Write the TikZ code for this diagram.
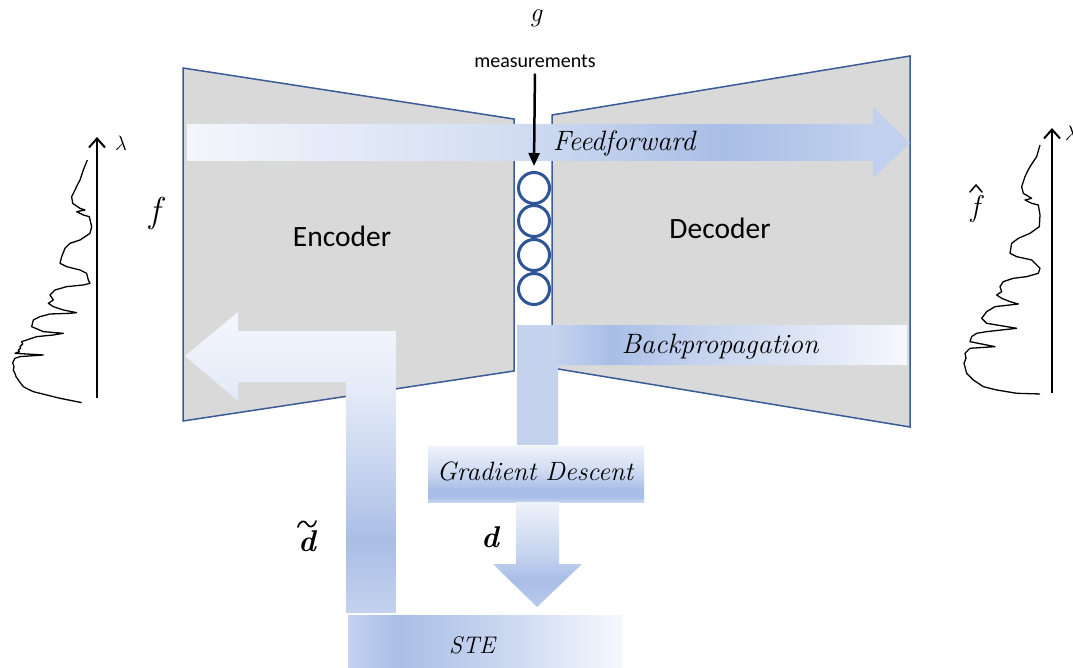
\documentclass[tikz,border=0pt]{standalone}
\usepackage{fontspec}
\newfontfamily\calibri{Carlito}
\usetikzlibrary{arrows.meta}

\definecolor{trapfill}{HTML}{D9D9D9}
\definecolor{trapline}{HTML}{3B5A98}
\definecolor{circblue}{HTML}{2F5597}
\definecolor{bW}{HTML}{F4F6FC}
\definecolor{bWW}{HTML}{F6F8FD}
\definecolor{bD}{HTML}{A9BEE6}
\definecolor{bL}{HTML}{C0D0EE}
\definecolor{bM}{HTML}{D3DEF2}
\definecolor{bS}{HTML}{C4D2EE}
\definecolor{bT}{HTML}{EEF2FA}
\definecolor{bU}{HTML}{E6ECF8}
\definecolor{bV}{HTML}{CFDAF1}
\definecolor{bX}{HTML}{DDE5F5}
\definecolor{bY}{HTML}{C9D6F0}
\definecolor{bZ}{HTML}{B9C9EB}

\pgfdeclarehorizontalshading{ffshade}{100bp}{color(0bp)=(bW); color(25bp)=(bW); color(47bp)=(bM); color(62bp)=(bD); color(72bp)=(bL); color(75bp)=(bL); color(100bp)=(bL)}
\pgfdeclarehorizontalshading{bpshade}{100bp}{color(0bp)=(bS); color(25bp)=(bS); color(30bp)=(bS); color(37bp)=(bD); color(48bp)=(bS); color(62bp)=(bX); color(75bp)=(bWW); color(100bp)=(bWW)}
\pgfdeclareverticalshading{ltshade}{100bp}{color(0bp)=(bS); color(25bp)=(bS); color(37bp)=(bD); color(52bp)=(bV); color(63bp)=(bU); color(75bp)=(bW); color(100bp)=(bW)}
\pgfdeclareverticalshading{gdshade}{100bp}{color(0bp)=(bY); color(25bp)=(bY); color(29bp)=(bD); color(36bp)=(bD); color(55bp)=(bM); color(75bp)=(bT); color(100bp)=(bT)}
\pgfdeclareverticalshading{dshade}{100bp}{color(0bp)=(bZ); color(25bp)=(bZ); color(38bp)=(bD); color(52bp)=(bY); color(75bp)=(bT); color(100bp)=(bT)}
\pgfdeclarehorizontalshading{steshade}{100bp}{color(0bp)=(bS); color(25bp)=(bS); color(34bp)=(bD); color(50bp)=(bS); color(75bp)=(bWW); color(100bp)=(bWW)}

\tikzset{
  trap/.style={fill=trapfill, draw=trapline, line width=1.5pt, line join=miter},
  circ/.style={circle, draw=circblue, line width=3pt, minimum size=31pt, inner sep=0pt},
  lab/.style={font=\fontsize{28}{32}\selectfont\itshape, inner sep=0pt},
  cal/.style={font=\fontsize{29.5}{33}\selectfont\calibri, inner sep=0pt},
  calsmall/.style={font=\fontsize{20}{24}\selectfont\calibri, inner sep=0pt},
  lamlab/.style={font=\fontsize{20}{23}\selectfont, inner sep=0pt},
  boldd/.style={font=\fontsize{30}{34}\selectfont\bfseries\itshape, inner sep=0pt},
  accent/.style={line width=1.5pt, line cap=round, line join=round},
  measarrow/.style={line width=2.5pt, -{Triangle[length=13pt,width=11pt]}},
  axisarrow/.style={line width=2pt, -{Straight Barb[length=9pt,width=16pt]}},
  spec/.style={line width=1.3pt, line join=round},
}

\begin{document}
\begin{tikzpicture}[x=1pt,y=-1pt]
\useasboundingbox (0,0) rectangle (1073,668);
\fill[white] (0,0) rectangle (1073,668);
\clip (0,0) rectangle (1073,668);

% encoder and decoder
\draw[trap] (183,68) -- (514,119) -- (514,371) -- (183,421) -- cycle;
\draw[trap] (552,115) -- (910,56) -- (910,427) -- (552,368) -- cycle;
\node[cal] (enc) at (342,236) {Encoder};
\node[cal] (dec) at (720,228) {Decoder};

% latent circles
\node[circ] (c1) at (534,188) {};
\node[circ] (c2) at (534,221) {};
\node[circ] (c3) at (534,255) {};
\node[circ] (c4) at (534,289) {};

% feedforward arrow
\shade[shading=ffshade] (187,124) -- (873,124) -- (873,107) -- (910,143) -- (873,178) -- (873,161) -- (187,161) -- cycle;
\node[lab] (ff) at (624,144) {Feedforward};

% measurements
\node[font=\fontsize{27}{30}\selectfont\itshape, inner sep=0pt] (g) at (536,18) {g};
\node[calsmall] (meas) at (535,61) {measurements};
\draw[measarrow, shorten <=6pt] (meas.south) -- ([yshift=5pt]c1.north);

% backpropagation bent bar
\shade[shading=bpshade] (517,325) -- (907,325) -- (907,365) -- (558,365) -- (558,445) -- (517,445) -- cycle;
\node[lab] (bp) at (720,347) {Backpropagation};

% gradient descent box
\shade[shading=gdshade] (428,446) rectangle (644,502);
\node[lab, font=\fontsize{26.5}{30}\selectfont\itshape] (gd) at (535,471) {Gradient Descent};

% d arrow
\shade[shading=dshade] (516,502) -- (559,502) -- (559,564) -- (582,564) -- (537,607) -- (493,564) -- (516,564) -- cycle;
\node[boldd] (dl) at (490,537) {d};

% left bent arrow (d tilde)
\shade[shading=ltshade] (185,356) -- (238,312) -- (238,331) -- (396,331) -- (396,613) -- (346,613) -- (346,382) -- (238,382) -- (238,401) -- cycle;
\node[boldd] (dt) at (307,541) {d};
\draw[accent, line width=1.7pt] (298,527) .. controls (300,520) and (305,520) .. (307,524) .. controls (309,528) and (314,528) .. (316,521);

% STE box
\shade[shading=steshade] (348,615) rectangle (622,668);
\node[lab, font=\fontsize{24}{28}\selectfont\itshape] (ste) at (472,645) {STE};

% left spectrum
\coordinate (la0) at (97,398);
\coordinate (la1) at (97,137);
\draw[axisarrow] (la0) -- (la1);
\node[lamlab] (lam1) at (121,143) {$\lambda$};
\node[font=\fontsize{36}{40}\selectfont\itshape, inner sep=0pt] (f) at (155,214) {f};
\begin{scope}[shift={(0,120)}, x=0.3333pt, y=-0.3333pt]
\draw[spec] (245,848) -- (230,845) -- (180,835) -- (140,825) -- (100,815) -- (85,808) -- (70,800) -- (62,790) -- (55,780) -- (48,770) -- (45,760) -- (40,750) -- (42,740) -- (38,728) -- (45,715) -- (60,710) -- (130,705) -- (45,700) -- (58,695) -- (55,690) -- (62,685) -- (60,680) -- (68,672) -- (65,665) -- (80,660) -- (110,650) -- (160,645) -- (190,640) -- (130,635) -- (95,620) -- (100,600) -- (120,590) -- (150,582) -- (210,580) -- (230,578) -- (190,570) -- (160,560) -- (145,550) -- (160,540) -- (150,525) -- (165,510) -- (200,500) -- (250,495) -- (270,490) -- (265,480) -- (260,460) -- (240,450) -- (200,440) -- (180,430) -- (185,410) -- (195,385) -- (210,370) -- (240,360) -- (270,340) -- (275,320) -- (268,290) -- (250,285) -- (230,275) -- (255,270) -- (240,265) -- (218,250) -- (215,230) -- (225,210) -- (232,195) -- (240,180) -- (245,165) -- (250,150) -- (262,120);
\end{scope}

% right spectrum
\coordinate (ra0) at (1052,393);
\coordinate (ra1) at (1052,128);
\draw[axisarrow] (ra0) -- (ra1);
\node[lamlab] (lam2) at (1071,133) {$\lambda$};
\node[font=\fontsize{30}{34}\selectfont\itshape, inner sep=0pt] (fh) at (975,209) {f};
\draw[accent] (970,192) -- (976,185) -- (982,192);
\begin{scope}[shift={(940,100)}, x=0.3333pt, y=-0.3333pt]
\draw[spec] (300,882) -- (230,880) -- (170,870) -- (130,860) -- (100,840) -- (80,820) -- (76,805) -- (72,790) -- (78,775) -- (75,760) -- (90,745) -- (165,740) -- (90,725) -- (95,710) -- (110,700) -- (140,695) -- (185,690) -- (230,685) -- (200,680) -- (140,670) -- (125,655) -- (140,635) -- (165,620) -- (210,615) -- (235,612) -- (210,605) -- (185,595) -- (170,585) -- (185,575) -- (180,560) -- (190,545) -- (220,535) -- (260,530) -- (295,520) -- (300,505) -- (275,480) -- (230,470) -- (210,460) -- (215,430) -- (235,415) -- (270,400) -- (298,380) -- (300,345) -- (295,315) -- (275,310) -- (255,300) -- (275,295) -- (250,280) -- (245,260) -- (255,230) -- (262,215) -- (270,200) -- (280,185) -- (290,170) -- (300,135);
\end{scope}
\end{tikzpicture}
\end{document}
